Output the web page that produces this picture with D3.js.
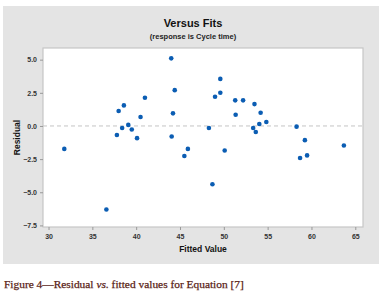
<!DOCTYPE html>
<html>
<head>
<meta charset="utf-8">
<script src="https://cdn.jsdelivr.net/npm/d3@7"></script>
<style>
  body { margin: 0; background: #fff; }
  svg { display: block; }
</style>
</head>
<body>
<svg id="chart"></svg>
<script>
// fitted values and residuals
const fitted = [31.8, 36.6, 37.8, 38.0, 38.4, 38.6, 39.1, 39.5, 40.1, 40.5, 41.0,
  44.0, 44.05, 44.2, 44.4, 45.5, 45.9, 48.3, 48.7, 49.0, 49.6, 49.6, 50.1,
  51.3, 51.35, 52.2, 53.35, 53.5, 53.65, 54.05, 54.2, 54.85, 58.3, 58.7, 59.25, 59.5, 63.7];
const residual = [-1.73, -6.3, -0.68, 1.13, -0.15, 1.55, 0.08, -0.27, -0.92, 0.68, 2.13,
  5.1, -0.8, 0.95, 2.7, -2.27, -1.73, -0.15, -4.4, 2.2, 3.55, 2.5, -1.85,
  1.93, 0.85, 1.93, -0.15, 1.65, -0.45, 0.15, 1.0, 0.3, -0.05, -2.42, -1.07, -2.22, -1.47];
const xTicks = [30, 35, 40, 45, 50, 55, 60, 65];
const yTicks = [5.0, 2.5, 0.0, -2.5, -5.0, -7.5];

const w = 384, h = 294;
const margin = { top: 48, left: 43, right: 21, bottom: 67 };

const svg = d3.select("#chart").attr("width", w).attr("height", h);

// gray panel behind everything
svg.append("rect")
  .attr("x", 3).attr("y", 6)
  .attr("width", 376).attr("height", 258)
  .attr("fill", "#e4e4e4");

const x = d3.scaleLinear().domain([29.37, 65.88]).range([margin.left, w - margin.right]);
const y = d3.scaleLinear().domain([-7.62, 5.88]).range([h - margin.bottom, margin.top]);

// plot area
svg.append("rect")
  .attr("x", margin.left).attr("y", margin.top)
  .attr("width", w - margin.left - margin.right)
  .attr("height", h - margin.top - margin.bottom)
  .attr("fill", "#fff")
  .attr("stroke", "#c6c6c6")
  .attr("stroke-width", 1.2);

svg.append("text")
  .attr("x", 193).attr("y", 27)
  .attr("text-anchor", "middle")
  .style("font", "bold 11px 'Liberation Sans', Arial, sans-serif")
  .attr("fill", "#111")
  .text("Versus Fits");
svg.append("text")
  .attr("x", 193).attr("y", 39)
  .attr("text-anchor", "middle")
  .style("font", "bold 7.5px 'Liberation Sans', Arial, sans-serif")
  .attr("fill", "#222")
  .text("(response is Cycle time)");

const xAxis = d3.axisBottom(x).tickValues(xTicks).tickSize(3).tickFormat(d3.format("d"));
const yAxis = d3.axisLeft(y).tickValues(yTicks).tickSize(3).tickFormat(d3.format(".1f"));

const gx = svg.append("g")
  .attr("transform", `translate(0,${h - margin.bottom})`)
  .call(xAxis);
const gy = svg.append("g")
  .attr("transform", `translate(${margin.left},0)`)
  .call(yAxis);

[gx, gy].forEach(g => {
  g.select(".domain").remove();
  g.selectAll(".tick line").attr("stroke", "#999");
  g.selectAll(".tick text")
    .style("font", "bold 7px 'Liberation Sans', Arial, sans-serif")
    .attr("fill", "#333");
});
gx.selectAll(".tick text").attr("dy", "0.85em");

// zero reference line
svg.append("line")
  .attr("x1", margin.left).attr("x2", w - margin.right)
  .attr("y1", y(0)).attr("y2", y(0))
  .attr("stroke", "#c4c4c4")
  .attr("stroke-dasharray", "4,3");

svg.selectAll("circle")
  .data(fitted)
  .enter()
  .append("circle")
  .attr("cx", d => x(d))
  .attr("cy", (d, i) => y(residual[i]))
  .attr("r", 2.3)
  .attr("fill", "#0b5db3");

svg.append("text")
  .attr("transform", `translate(17,${(margin.top + h - margin.bottom) / 2}) rotate(-90)`)
  .attr("text-anchor", "middle")
  .attr("dy", "0.35em")
  .style("font", "bold 8.5px 'Liberation Sans', Arial, sans-serif")
  .attr("fill", "#111")
  .text("Residual");

svg.append("text")
  .attr("x", (margin.left + w - margin.right) / 2).attr("y", 252)
  .attr("text-anchor", "middle")
  .style("font", "bold 8.5px 'Liberation Sans', Arial, sans-serif")
  .attr("fill", "#111")
  .text("Fitted Value");

// caption
const cap = svg.append("text")
  .attr("x", 4).attr("y", 288)
  .style("font", "11.4px 'Liberation Serif', 'DejaVu Serif', serif")
  .attr("fill", "#5a2417")
  .attr("stroke", "#5a2417")
  .attr("stroke-width", 0.25);
cap.append("tspan").text("Figure 4\u2014Residual ");
cap.append("tspan").style("font-style", "italic").text("vs.");
cap.append("tspan").text(" fitted values for Equation [7]");
</script>
</body>
</html>
